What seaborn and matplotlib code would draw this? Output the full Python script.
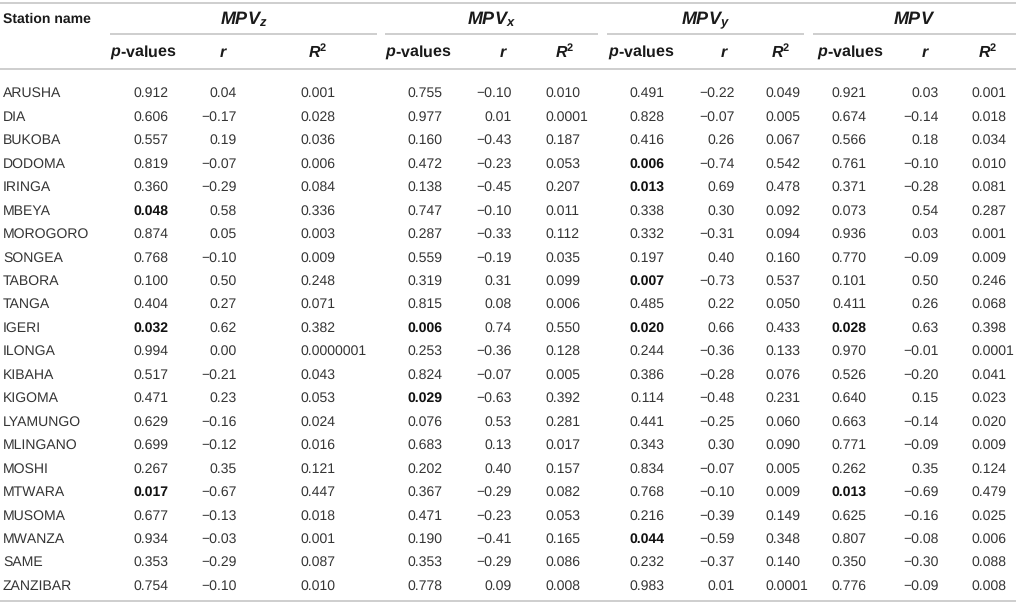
import matplotlib
matplotlib.use("Agg")
import matplotlib.pyplot as plt
import seaborn as sns
import numpy as np

# ---------------- data ----------------
stations = ["ARUSHA", "DIA", "BUKOBA", "DODOMA", "IRINGA", "MBEYA", "MOROGORO",
            "SONGEA", "TABORA", "TANGA", "IGERI", "ILONGA", "KIBAHA", "KIGOMA",
            "LYAMUNGO", "MLINGANO", "MOSHI", "MTWARA", "MUSOMA", "MWANZA", "SAME",
            "ZANZIBAR"]

group_labels = [r"$\mathbfit{MPV}_{\mathbfit{z}}$", r"$\mathbfit{MPV}_{\mathbfit{x}}$",
                r"$\mathbfit{MPV}_{\mathbfit{y}}$", r"$\mathbfit{MPV}$"]
sub_labels = [r"$\mathbfit{p}$-values", r"$\mathbfit{r}$", r"$\mathbfit{R}^{\mathbf{2}}$"]

mpvz_p = ["0.912", "0.606", "0.557", "0.819", "0.360", "0.048", "0.874", "0.768", "0.100",
          "0.404", "0.032", "0.994", "0.517", "0.471", "0.629", "0.699", "0.267", "0.017",
          "0.677", "0.934", "0.353", "0.754"]
mpvz_r = ["0.04", "−0.17", "0.19", "−0.07", "−0.29", "0.58", "0.05", "−0.10", "0.50",
          "0.27", "0.62", "0.00", "−0.21", "0.23", "−0.16", "−0.12", "0.35", "−0.67",
          "−0.13", "−0.03", "−0.29", "−0.10"]
mpvz_r2 = ["0.001", "0.028", "0.036", "0.006", "0.084", "0.336", "0.003", "0.009", "0.248",
           "0.071", "0.382", "0.0000001", "0.043", "0.053", "0.024", "0.016", "0.121",
           "0.447", "0.018", "0.001", "0.087", "0.010"]

mpvx_p = ["0.755", "0.977", "0.160", "0.472", "0.138", "0.747", "0.287", "0.559", "0.319",
          "0.815", "0.006", "0.253", "0.824", "0.029", "0.076", "0.683", "0.202", "0.367",
          "0.471", "0.190", "0.353", "0.778"]
mpvx_r = ["−0.10", "0.01", "−0.43", "−0.23", "−0.45", "−0.10", "−0.33", "−0.19", "0.31",
          "0.08", "0.74", "−0.36", "−0.07", "−0.63", "0.53", "0.13", "0.40", "−0.29",
          "−0.23", "−0.41", "−0.29", "0.09"]
mpvx_r2 = ["0.010", "0.0001", "0.187", "0.053", "0.207", "0.011", "0.112", "0.035", "0.099",
           "0.006", "0.550", "0.128", "0.005", "0.392", "0.281", "0.017", "0.157", "0.082",
           "0.053", "0.165", "0.086", "0.008"]

mpvy_p = ["0.491", "0.828", "0.416", "0.006", "0.013", "0.338", "0.332", "0.197", "0.007",
          "0.485", "0.020", "0.244", "0.386", "0.114", "0.441", "0.343", "0.834", "0.768",
          "0.216", "0.044", "0.232", "0.983"]
mpvy_r = ["−0.22", "−0.07", "0.26", "−0.74", "0.69", "0.30", "−0.31", "0.40", "−0.73",
          "0.22", "0.66", "−0.36", "−0.28", "−0.48", "−0.25", "0.30", "−0.07", "−0.10",
          "−0.39", "−0.59", "−0.37", "0.01"]
mpvy_r2 = ["0.049", "0.005", "0.067", "0.542", "0.478", "0.092", "0.094", "0.160", "0.537",
           "0.050", "0.433", "0.133", "0.076", "0.231", "0.060", "0.090", "0.005", "0.009",
           "0.149", "0.348", "0.140", "0.0001"]

mpv_p = ["0.921", "0.674", "0.566", "0.761", "0.371", "0.073", "0.936", "0.770", "0.101",
         "0.411", "0.028", "0.970", "0.526", "0.640", "0.663", "0.771", "0.262", "0.013",
         "0.625", "0.807", "0.350", "0.776"]
mpv_r = ["0.03", "−0.14", "0.18", "−0.10", "−0.28", "0.54", "0.03", "−0.09", "0.50",
         "0.26", "0.63", "−0.01", "−0.20", "0.15", "−0.14", "−0.09", "0.35", "−0.69",
         "−0.16", "−0.08", "−0.30", "−0.09"]
mpv_r2 = ["0.001", "0.018", "0.034", "0.010", "0.081", "0.287", "0.001", "0.009", "0.246",
          "0.068", "0.398", "0.0001", "0.041", "0.023", "0.020", "0.009", "0.124", "0.479",
          "0.025", "0.006", "0.088", "0.008"]

groups = [(mpvz_p, mpvz_r, mpvz_r2), (mpvx_p, mpvx_r, mpvx_r2),
          (mpvy_p, mpvy_r, mpvy_r2), (mpv_p, mpv_r, mpv_r2)]

# ---------------- layout (pixels) ----------------
W, H = 1016, 606
group_spans = [(110, 377), (385, 598), (607, 804), (813, 1016)]
# p right edge, r right edge, R2 left edge
col_x = [(168, 237, 300), (442, 512, 545), (664, 735, 765), (866, 939, 971)]
hdr_x = [(143, 223, 318), (418, 503, 565), (641, 724, 781), (850, 925, 988)]

row0, dy = 92.5, 23.45
base_off = 4.8          # baseline offset below row centre
y_top, y_grp_base, y_under, y_sub_base, y_hline, y_bottom = 2.5, 24.5, 34, 57, 69, 601

# ---------------- style ----------------
sns.set_theme(style="white")
plt.rcParams["font.family"] = ["Liberation Sans", "DejaVu Sans"]
plt.rcParams["mathtext.fontset"] = "custom"
plt.rcParams["mathtext.rm"] = "Liberation Sans"
plt.rcParams["mathtext.it"] = "Liberation Sans:italic"
plt.rcParams["mathtext.bf"] = "Liberation Sans:bold"
plt.rcParams["mathtext.bfit"] = "Liberation Sans:italic:bold"
plt.rcParams["mathtext.sf"] = "Liberation Sans"
plt.rcParams["text.hinting"] = "no_hinting"
plt.rcParams["text.hinting_factor"] = 1

line_c = "#c6c6c6"
txt_c = "#353535"
hdr_c = "#1a1a1a"
fs_data = 9.8
fs_name = 10.3
fs_sub = 11.2
fs_grp = 13.3

fig = plt.figure(figsize=(W / 100, H / 100), dpi=100)
ax = fig.add_axes([0, 0, 1, 1])
ax.set_xlim(0, W)
ax.set_ylim(H, 0)
ax.axis("off")

# rules
ax.hlines([y_top, y_hline, y_bottom], 0, W, color=line_c, lw=1.2)
for (a, b) in group_spans:
    ax.hlines(y_under, a, b, color=line_c, lw=1.2)

# header
ax.text(3, y_grp_base - 1.5, "Station name", fontsize=fs_name, fontweight="bold",
        color=hdr_c, ha="left", va="baseline")
for gi, (a, b) in enumerate(group_spans):
    ax.text((a + b) / 2, y_grp_base, group_labels[gi], fontsize=fs_grp, color=hdr_c,
            ha="center", va="baseline")
    for si in range(3):
        ax.text(hdr_x[gi][si], y_sub_base, sub_labels[si], fontsize=fs_sub,
                fontweight="bold", color=hdr_c, ha="center", va="baseline")

# body
ys = row0 + dy * np.arange(len(stations)) + base_off
for i, name in enumerate(stations):
    y = ys[i]
    ax.text(3, y, name, fontsize=fs_data, color=txt_c, ha="left", va="baseline")
    for gi, (pv, rv, r2v) in enumerate(groups):
        xp, xr, xr2 = col_x[gi]
        bold = float(pv[i]) < 0.05
        ax.text(xp, y, pv[i], fontsize=fs_data, ha="right", va="baseline",
                color="#111111" if bold else txt_c,
                fontweight="bold" if bold else "normal")
        ax.text(xr, y, rv[i], fontsize=fs_data, ha="right", va="baseline", color=txt_c)
        ax.text(xr2, y, r2v[i], fontsize=fs_data, ha="left", va="baseline", color=txt_c)

fig.savefig("out.png", dpi=100, facecolor="white")
